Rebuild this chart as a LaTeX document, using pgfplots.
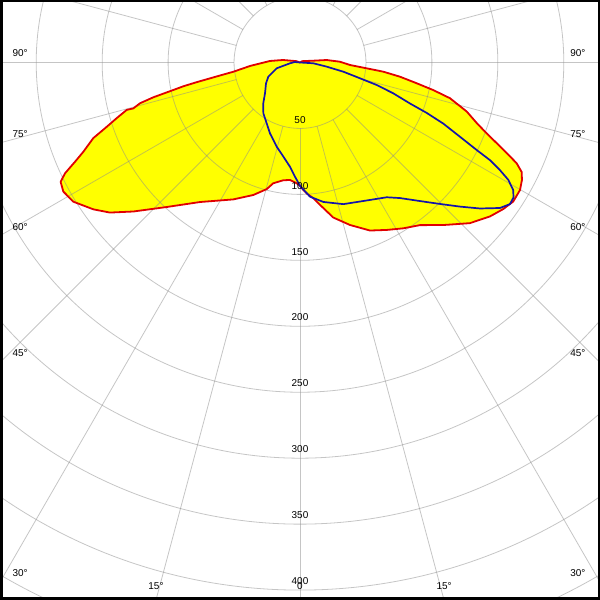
\documentclass[border=0pt]{standalone}
\usepackage{pgfplots}
\pgfplotsset{compat=1.18}
\usepackage{pgfplotstable}
\usepackage{fontspec}
\setmainfont{Liberation Sans}
\definecolor{gridc}{RGB}{140,140,140}
\definecolor{curvered}{RGB}{225,0,0}
\definecolor{curveblue}{RGB}{20,20,170}
\definecolor{fillyellow}{RGB}{255,255,0}

% C0-C180 plane: gamma (deg, negative = C180 side), intensity
\pgfplotstableread{
g I
-180 0
-110 3
-98.4 13.0
-92.9 22.8
-86.0 38.0
-82.1 51.0
-80.5 64.0
-79.2 80.0
-78.5 90.0
-77.75 98.3
-76.65 114.3
-75.7 125.2
-74.6 131.1
-74.7 136.2
-73.1 145.3
-71.6 154.4
-69.9 166.9
-67.6 177.7
-66.2 186.4
-64.75 197.0
-63.5 202.8
-61.4 204.4
-58.45 201.7
-54.6 192.2
-51.7 183.6
-48.2 169.5
-42.7 149.1
-35.6 130.1
-26.0 115.5
-19.4 106.5
-14.7 99.2
-12.5 93.8
-8.1 90.2
-4.9 89.4
-1.6 91.6
0 93.5
1.5 96.7
3 99.5
5.6 103.4
8 109.0
12.1 120.2
17.1 128.9
22.6 138.0
27.4 143.0
31.9 148.1
36.4 153.2
41.4 164.3
46.6 177.3
51.0 185.4
54.2 190.0
56.9 193.0
59.9 192.8
62.1 190.4
63.7 187.5
65.05 181.2
66.35 171.1
67.7 161.2
69.2 151.4
71.1 141.6
73.6 131.8
76.6 116.9
78.3 103.2
79.9 89.9
81.9 76.6
83.7 63.5
85.0 50.8
87.1 38.0
91.1 30.3
95.3 20.3
97.7 10.2
120 2
180 0
}\redC

% C90-C270 plane
\pgfplotstableread{
g I
-180 0
-95 4
-85.4 7.6
-76 18.2
-65.9 26.3
-58.5 30.2
-48.7 35.3
-42.0 41.6
-35.8 47.5
-28.7 52.6
-23.0 58.3
-15.5 66.2
-10.0 72.5
-5.5 79.4
-2.5 86.7
0 93.5
4.26 102.0
9.5 107.2
17.0 112.3
25.8 116.2
32.75 121.5
36.4 127.7
40.9 139.0
44.7 150.9
48.0 163.3
50.95 175.7
53.96 187.5
56.0 192.0
57.7 191.5
59.1 188.4
60.6 181.3
61.7 172.2
62.8 161.9
63.65 149.5
65.1 133.7
66.9 118.1
68.3 103.4
69.55 89.0
71.7 74.5
73.65 60.6
75.25 47.0
78.0 33.6
81.1 20.5
86.6 10.1
180 0
}\blueC

\begin{document}
\begin{tikzpicture}
\begin{axis}[
  width=600bp, height=600bp, scale only axis,
  xmin=-227.45, xmax=227.45, ymin=-407.51, ymax=47.38,
  hide axis, clip=true,
  every node/.style={font=\fontsize{11.6bp}{13bp}\selectfont, inner sep=0pt, text=black},
]
\coordinate (SW) at (rel axis cs:0,0);
\coordinate (NE) at (rel axis cs:1,1);
\addplot[fill=fillyellow, draw=none, data cs=polar] table[x expr=\thisrow{g}-90, y=I] {\redC};
\pgfplotsinvokeforeach{50,100,...,450}{
  \draw[gridc, opacity=0.5, line width=0.8bp] (axis cs:0,0) circle[radius=#1];
}
\pgfplotsinvokeforeach{0,15,...,345}{
  \draw[gridc, opacity=0.5, line width=0.8bp] (axis cs:{50*cos(#1)},{50*sin(#1)}) -- (axis cs:{700*cos(#1)},{700*sin(#1)});
}
\addplot[curvered, line width=1.8bp, line join=round, data cs=polar] table[x expr=\thisrow{g}-90, y=I] {\redC};
\addplot[curveblue, line width=1.7bp, line join=round, data cs=polar] table[x expr=\thisrow{g}-90, y=I] {\blueC};
% radial labels
\pgfplotsinvokeforeach{50,100,...,400}{
  \node[anchor=south] at (axis cs:0,{-#1+1.3}) {#1};
}
% angle labels, left and right
\node[anchor=south west] at (axis cs:-220.6,1.5) {90°};
\node[anchor=south west] at (axis cs:-220.6,-59.4) {75°};
\node[anchor=south west] at (axis cs:-220.6,-129.8) {60°};
\node[anchor=south west] at (axis cs:-220.6,-225.9) {45°};
\node[anchor=south west] at (axis cs:-220.6,-392.4) {30°};
\node[anchor=south east] at (axis cs:219.1,1.5) {90°};
\node[anchor=south east] at (axis cs:219.1,-59.4) {75°};
\node[anchor=south east] at (axis cs:219.1,-129.8) {60°};
\node[anchor=south east] at (axis cs:219.1,-225.9) {45°};
\node[anchor=south east] at (axis cs:219.1,-392.4) {30°};
\node[anchor=south] at (axis cs:-109.2,-402.2) {15°};
\node[anchor=south] at (axis cs:109.2,-402.2) {15°};
\node[anchor=south] at (axis cs:0,-402.2) {0};
\end{axis}
\draw[line width=5bp] (SW) rectangle (NE);
\pgfresetboundingbox
\path[use as bounding box] (SW) rectangle (NE);
\end{tikzpicture}
\end{document}
